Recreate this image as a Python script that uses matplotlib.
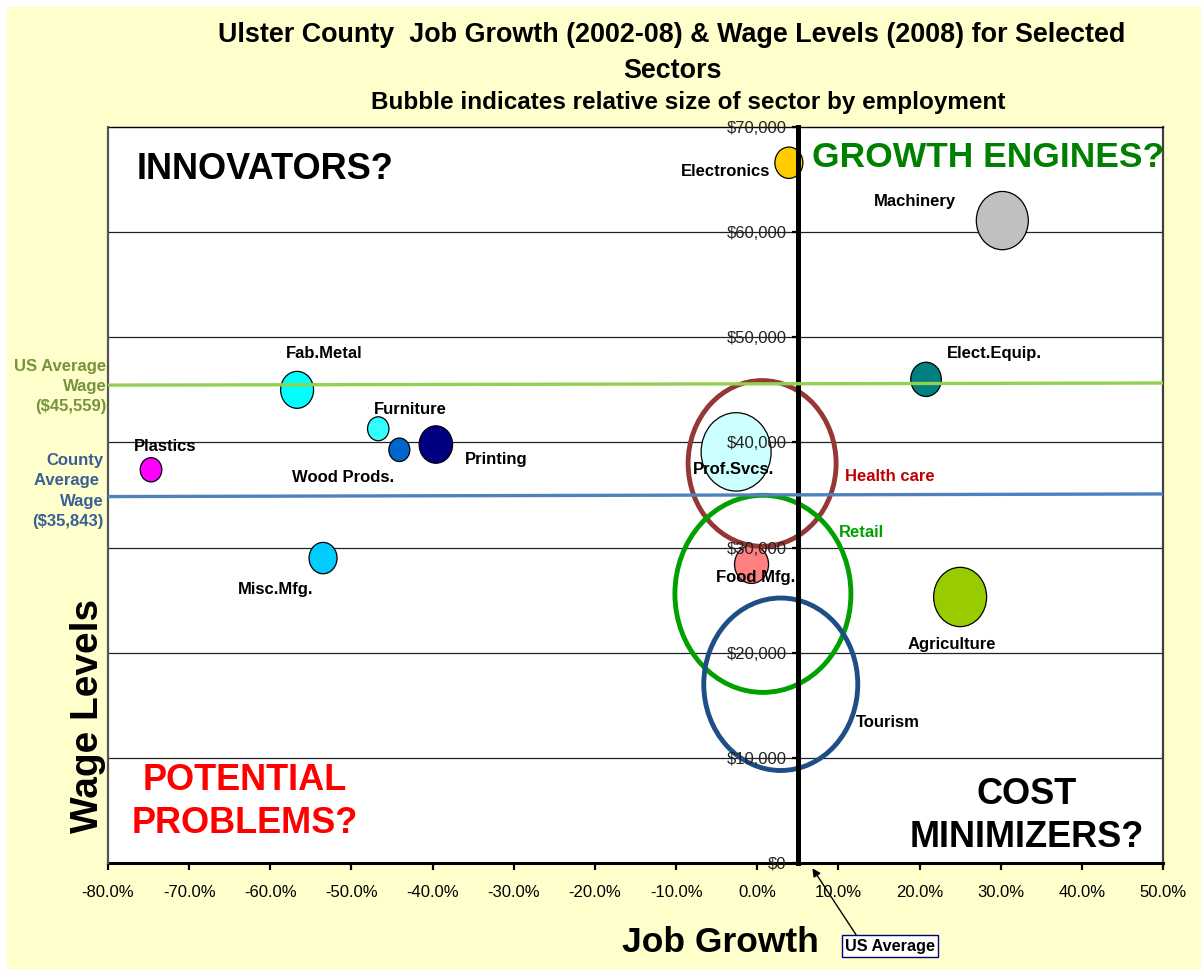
"""
Ulster County job growth vs wage levels, bubble chart.
"""
import matplotlib
matplotlib.use("Agg")
import matplotlib.pyplot as plt
import numpy as np
from matplotlib.markers import MarkerStyle
from matplotlib.path import Path
from matplotlib.patches import Rectangle
from matplotlib.transforms import Affine2D

# ---- data ----
sectors = ["Electronics", "Machinery", "Elect.Equip.", "Fab.Metal", "Furniture",
           "Wood Prods.", "Printing", "Plastics", "Misc.Mfg.", "Prof.Svcs.",
           "Food Mfg.", "Agriculture"]
job_growth = [3.9, 30.2, 20.8, -56.7, -46.7, -44.1, -39.6, -74.7, -53.5, -2.6, -0.7, 25.0]
wages = [66600, 61100, 46000, 45000, 41300, 39300, 39800, 37400, 29000, 39100, 28400, 25300]
employment = [1960, 6760, 2340, 2720, 1140, 1100, 2790, 1170, 1960, 12250, 2890, 7020]
colors = ["#FFCC00", "#C0C0C0", "#008080", "#00FFFF", "#33FFFF", "#0066CC",
          "#000080", "#FF00FF", "#00CCFF", "#CCFFFF", "#FF8080", "#99CC00"]

big_sectors = ["Health care", "Retail", "Tourism"]
big_growth = [0.6, 0.7, 2.9]
big_wages = [38000, 25600, 17000]
big_employment = [54760, 77440, 59290]
big_colors = ["#953735", "#00A000", "#1F4E86"]
big_label_colors = ["#C00000", "#00A000", "black"]

x_ticks = list(range(-80, 51, 10))
y_ticks = list(range(0, 70001, 10000))
us_wage_label = "US Average\nWage\n($45,559)"
county_wage_label = "County\nAverage \nWage\n($35,843)"
line_x = [-80, 50]
us_line = [45450, 45650]
county_line = [34850, 35100]
us_job_growth = 5

# label offsets from bubble centre, in pixels (x right, y up)
label_off = {
    "Electronics": (-19, -9, "right"), "Machinery": (-87, 19, "center"),
    "Elect.Equip.": (68, 26, "center"), "Fab.Metal": (27, 36, "center"),
    "Furniture": (32, 19, "center"), "Wood Prods.": (-56, -28, "center"),
    "Printing": (60, -15, "center"), "Plastics": (14, 23, "center"),
    "Misc.Mfg.": (-47, -31, "center"), "Prof.Svcs.": (-3, -18, "center"),
    "Food Mfg.": (4, -13, "center"), "Agriculture": (-8, -48, "center"),
    "Health care": (128, -13, "center"), "Retail": (99, 61, "center"),
    "Tourism": (107, -38, "center"),
}

DPI = 100
PT = 72 / DPI
ASPECT = 1.12
bubble = MarkerStyle(Path.unit_circle().transformed(Affine2D().scale(1, ASPECT)))


def marker_area(emp):
    rx = np.sqrt(np.asarray(emp) / 10.0)  # pixels
    return (2 * ASPECT * rx * PT) ** 2


plt.rcParams["font.family"] = ["Liberation Sans", "DejaVu Sans"]

fig = plt.figure(figsize=(12.01, 9.69), dpi=DPI)
fig.patch.set_facecolor("white")
fig.add_artist(Rectangle((7 / 1201, 0), 1, (969 - 7) / 969, transform=fig.transFigure,
                         facecolor="#FFFFCC", edgecolor="none", zorder=-10))

ax = fig.add_axes([108 / 1201, (969 - 863) / 969, (1163 - 108) / 1201, (863 - 127) / 969])
ax.set_facecolor("white")
ax.set_xlim(-80, 50)
ax.set_ylim(0, 70000)
ax.set_axisbelow(False)

for yv in y_ticks[1:-1]:
    ax.axhline(yv, color="#222222", lw=0.9, zorder=0.5)

ax.scatter(job_growth, wages, s=marker_area(employment), c=colors, marker=bubble,
           edgecolors="black", linewidths=0.9, zorder=1.5)
ax.scatter(big_growth, big_wages, s=marker_area(big_employment), marker=bubble,
           facecolors="none", edgecolors=big_colors, linewidths=3.5, zorder=1.8)

ax.plot(line_x, us_line, color="#92D050", lw=2.4, zorder=3)
ax.plot(line_x, county_line, color="#4F81BD", lw=2.4, zorder=3)

for name, gx, wy in zip(sectors, job_growth, wages):
    dx, dy, ha = label_off[name]
    ax.annotate(name, (gx, wy), xytext=(dx * PT, dy * PT), textcoords="offset points",
                ha=ha, va="center", fontsize=12, fontweight="bold", zorder=4)
for name, gx, wy, lc in zip(big_sectors, big_growth, big_wages, big_label_colors):
    dx, dy, ha = label_off[name]
    ax.annotate(name, (gx, wy), xytext=(dx * PT, dy * PT), textcoords="offset points",
                ha=ha, va="center", fontsize=12, fontweight="bold", color=lc, zorder=4)

# axes, spines and ticks
ax.spines["left"].set_position(("data", us_job_growth))
ax.spines["left"].set_linewidth(3.6)
ax.spines["left"].set_color("black")
ax.spines["bottom"].set_linewidth(2.2)
ax.spines["top"].set_linewidth(1.0)
ax.spines["right"].set_color("#404040")
ax.spines["right"].set_linewidth(1.6)
ax.axvline(-80, color="#555555", lw=1.6, clip_on=False, zorder=2.6)

ax.set_xticks(x_ticks)
ax.set_xticklabels([f"{v:.1f}%" for v in x_ticks])
ax.set_yticks(y_ticks)
ax.set_yticklabels([f"${v:,.0f}" for v in y_ticks])
ax.tick_params(axis="x", direction="out", length=5, width=1.6, pad=11, labelsize=12)
ax.tick_params(axis="y", direction="out", length=4, width=1.6, pad=4, labelsize=12,
               labelcolor="#222222")

# quadrant labels
ax.text(0.149, 0.9416, "INNOVATORS?", transform=ax.transAxes, ha="center", va="center",
        fontsize=26, fontweight="bold", color="black")
ax.text(0.834, 0.959, "GROWTH ENGINES?", transform=ax.transAxes, ha="center", va="center",
        fontsize=25.5, fontweight="bold", color="#008000")
ax.text(0.130, 0.083, "POTENTIAL\nPROBLEMS?", transform=ax.transAxes, ha="center",
        va="center", fontsize=26, fontweight="bold", color="#FF0000", linespacing=1.27)
ax.text(0.871, 0.064, "COST\nMINIMIZERS?", transform=ax.transAxes, ha="center",
        va="center", fontsize=26, fontweight="bold", color="black", linespacing=1.27)

# average wage labels on the left
ax.annotate(us_wage_label, (-80, us_line[0]), xytext=(-1, -1), textcoords="offset points",
            ha="right", va="center", multialignment="right", fontsize=12,
            fontweight="bold", color="#77933C", linespacing=1.45, annotation_clip=False)
ax.annotate(county_wage_label, (-80, county_line[0]), xytext=(-3, 4),
            textcoords="offset points", ha="right", va="center", multialignment="right",
            fontsize=12, fontweight="bold", color="#3A5F96", linespacing=1.45,
            annotation_clip=False)

# US average arrow
ax.annotate("US Average", xy=(6.8, -500), xycoords="data",
            xytext=(890, 969 - 946), textcoords="figure pixels", ha="center", va="center",
            fontsize=11.7, fontweight="bold", annotation_clip=False,
            bbox=dict(boxstyle="square,pad=0.2", facecolor="white", edgecolor="#000080", lw=1),
            arrowprops=dict(arrowstyle="-|>", color="black", lw=1, relpos=(0.15, 1.0),
                            shrinkA=0, shrinkB=0, mutation_scale=12))

# titles and axis titles
fig.text(672 / 1201, 1 - 53 / 969, "Ulster County  Job Growth (2002-08) & Wage Levels (2008) for Selected\nSectors",
         ha="center", va="center", fontsize=19.4, fontweight="bold", linespacing=1.45)
fig.text(688 / 1201, 1 - 102 / 969, "Bubble indicates relative size of sector by employment",
         ha="center", va="center", fontsize=17.5, fontweight="bold")
fig.text(88 / 1201, 1 - 716 / 969, "Wage Levels", rotation=90, ha="center", va="center",
         fontsize=28, fontweight="bold")
fig.text(720 / 1201, 1 - 943 / 969, "Job Growth", ha="center", va="center",
         fontsize=25.5, fontweight="bold")

fig.savefig("out.png", dpi=DPI)
